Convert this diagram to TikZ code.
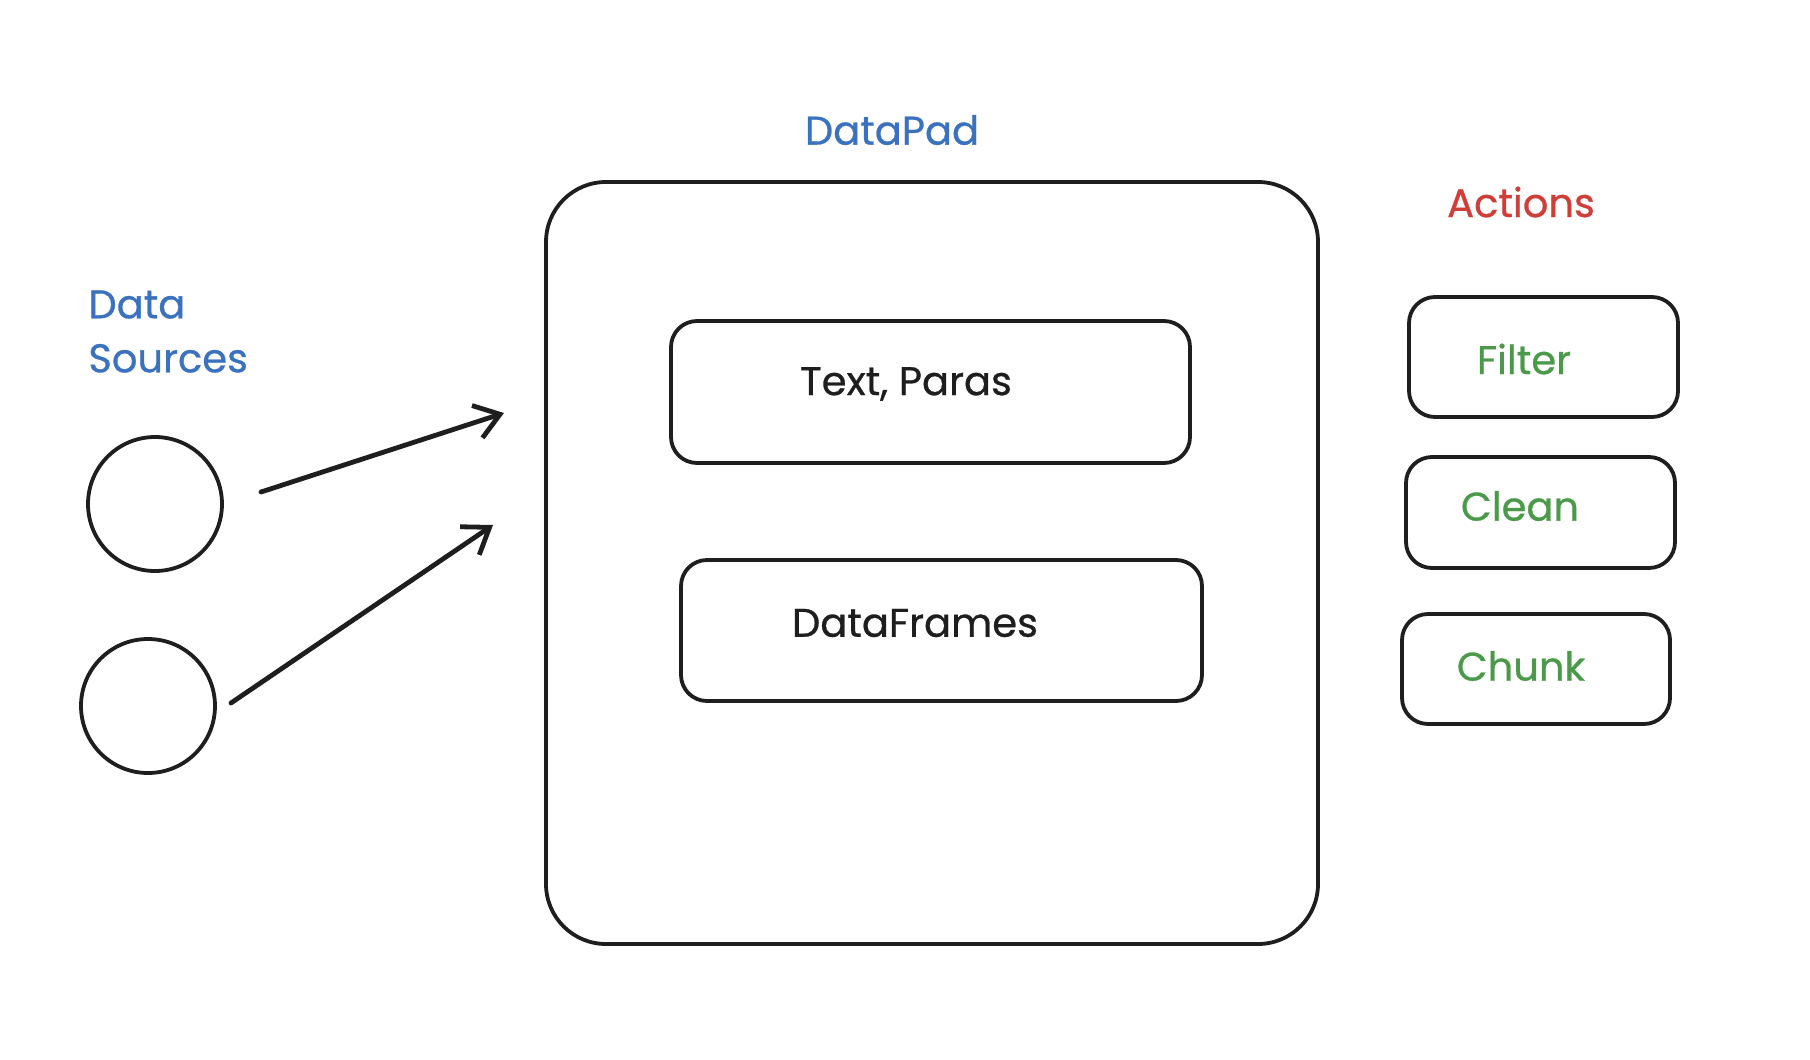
\documentclass[tikz,border=0pt]{standalone}
\usepackage{fontspec}
\setmainfont{Poppins}[UprightFeatures={FakeBold=0.7}]
\usetikzlibrary{arrows.meta}
\definecolor{inkblack}{HTML}{1E1E1E}
\definecolor{inkblue}{HTML}{3A72C0}
\definecolor{inkred}{HTML}{D03E3A}
\definecolor{inkgreen}{HTML}{4A9A4A}
\tikzset{
  bigbox/.style={draw=inkblack, line width=1.9pt, rounded corners=30pt, inner sep=0pt},
  midbox/.style={draw=inkblack, line width=1.9pt, rounded corners=13pt, inner sep=0pt},
  actbox/.style={draw=inkblack, line width=1.9pt, rounded corners=13pt, inner sep=0pt},
  src/.style={draw=inkblack, line width=1.9pt, circle, minimum size=67pt, inner sep=0pt},
  arr/.style={draw=inkblack, line width=2.4pt, line cap=round, -{Straight Barb[length=12pt, width=17pt, line width=2.4pt]}},
  txt/.style={font=\fontsize{20}{27}\selectfont, inner sep=0pt},
}
\begin{document}
\begin{tikzpicture}[x=0.5pt, y=-0.5pt]
\useasboundingbox (0,0) rectangle (1810,1060);
% main container
\node[bigbox, minimum width=386pt, minimum height=381pt] (pad) at (932,563) {};
\node[txt, text=inkblue] (padlbl) at (892,130) {DataPad};
% inner boxes
\node[midbox, minimum width=259.5pt, minimum height=71pt] (paras) at (930.5,392) {};
\node[txt, text=inkblack] (parastxt) at (906,384) {Text, Paras};
\node[midbox, minimum width=260.5pt, minimum height=70.5pt] (frames) at (941.5,630.5) {};
\node[txt, text=inkblack] (framestxt) at (915,623) {DataFrames};
% actions
\node[txt, text=inkred] (actlbl) at (1521,202) {Actions};
\node[actbox, minimum width=134.5pt, minimum height=60pt] (filter) at (1543.5,357) {};
\node[txt, text=inkgreen] (filtertxt) at (1524,359) {Filter};
\node[actbox, minimum width=134.5pt, minimum height=55.5pt] (clean) at (1540.5,512.5) {};
\node[txt, text=inkgreen] (cleantxt) at (1520,506) {Clean};
\node[actbox, minimum width=134pt, minimum height=55pt] (chunk) at (1536,669) {};
\node[txt, text=inkgreen] (chunktxt) at (1521,666) {Chunk};
% data sources
\node[txt, text=inkblue, align=left, anchor=north west] (srclbl) at (88,290) {Data\\Sources};
\node[src] (s1) at (155,504) {};
\node[src] (s2) at (148,706) {};
% arrows
\coordinate (a1s) at (261,492);
\coordinate (a1e) at (504,413);
\coordinate (a2s) at (231,703);
\coordinate (a2e) at (493,525);
\draw[arr] (a1s) -- (a1e);
\draw[arr] (a2s) -- (a2e);
\end{tikzpicture}
\end{document}
